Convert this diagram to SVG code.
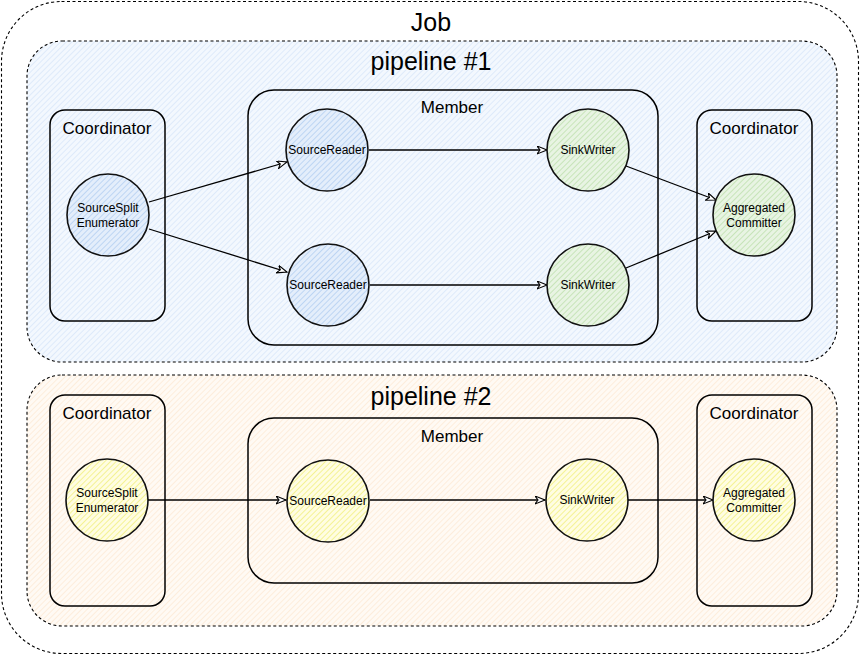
<svg xmlns="http://www.w3.org/2000/svg" width="861" height="656" viewBox="0 0 861 656">
<style>
.dash{fill:none;stroke:#000;stroke-width:1.1;stroke-dasharray:3 2.5}
.box{fill:none;stroke:#000;stroke-width:1.5}
.node{stroke:#111;stroke-width:1.6}
.t{font-family:"Liberation Sans",Arial,sans-serif;fill:#000;text-anchor:middle}
.big{font-size:25px}
.mid{font-size:17px}
.sm{font-size:12px}
.edge{fill:none;stroke:#000;stroke-width:1.3;marker-end:url(#arr)}
</style>
<defs>
<pattern id="hBlueBg" width="4" height="4" patternUnits="userSpaceOnUse" patternTransform="rotate(45)">
<rect width="4" height="4" fill="#f3f8fe"/><line x1="0" y1="0" x2="0" y2="4" stroke="#d3e3f8" stroke-width="1.3"/>
</pattern>
<pattern id="hOrgBg" width="4" height="4" patternUnits="userSpaceOnUse" patternTransform="rotate(45)">
<rect width="4" height="4" fill="#fffaf4"/><line x1="0" y1="0" x2="0" y2="4" stroke="#fde6cf" stroke-width="1.3"/>
</pattern>
<pattern id="hBlue" width="4" height="4" patternUnits="userSpaceOnUse" patternTransform="rotate(45)">
<rect width="4" height="4" fill="#e4eefb"/><line x1="0" y1="0" x2="0" y2="4" stroke="#a8c8f0" stroke-width="1.3"/>
</pattern>
<pattern id="hGreen" width="4" height="4" patternUnits="userSpaceOnUse" patternTransform="rotate(45)">
<rect width="4" height="4" fill="#e8f4e3"/><line x1="0" y1="0" x2="0" y2="4" stroke="#b5dca2" stroke-width="1.3"/>
</pattern>
<pattern id="hYellow" width="4" height="4" patternUnits="userSpaceOnUse" patternTransform="rotate(45)">
<rect width="4" height="4" fill="#fffde2"/><line x1="0" y1="0" x2="0" y2="4" stroke="#eeec6a" stroke-width="1.3"/>
</pattern>
<marker id="arr" markerUnits="userSpaceOnUse" markerWidth="12" markerHeight="10" refX="10" refY="4" orient="auto">
<path d="M0,0 L10,4 L0,8 L3,4 Z" fill="#fff" stroke="#000" stroke-width="1.1" stroke-linejoin="miter"/>
</marker>
</defs>

<g id="job">
<rect class="dash" x="1.5" y="1.5" width="857" height="652" rx="60" fill="#fff"/>
<text class="t big" x="431" y="31">Job</text>
</g>

<g id="pipeline1">
<rect x="27" y="41" width="810" height="321" rx="35" fill="url(#hBlueBg)"/>
<rect class="dash" x="27" y="41" width="810" height="321" rx="35"/>
<text class="t big" x="431" y="70">pipeline #1</text>
</g>

<g id="pipeline2">
<rect x="27" y="375" width="810" height="251" rx="35" fill="url(#hOrgBg)"/>
<rect class="dash" x="27" y="375" width="810" height="251" rx="35"/>
<text class="t big" x="431" y="405">pipeline #2</text>
</g>

<g id="p1-coord-left">
<rect class="box" x="50" y="110" width="115" height="211" rx="15"/>
<text class="t mid" x="107" y="134">Coordinator</text>
</g>
<g id="p1-member">
<rect class="box" x="248" y="90" width="410" height="255" rx="26"/>
<text class="t mid" x="452" y="113">Member</text>
</g>
<g id="p1-coord-right">
<rect class="box" x="697" y="110" width="115" height="211" rx="15"/>
<text class="t mid" x="754" y="134">Coordinator</text>
</g>

<g id="p2-coord-left">
<rect class="box" x="50" y="395" width="115" height="211" rx="15"/>
<text class="t mid" x="107" y="419">Coordinator</text>
</g>
<g id="p2-member">
<rect class="box" x="248" y="418" width="410" height="165" rx="26"/>
<text class="t mid" x="452" y="442">Member</text>
</g>
<g id="p2-coord-right">
<rect class="box" x="697" y="395" width="115" height="211" rx="15"/>
<text class="t mid" x="754" y="419">Coordinator</text>
</g>

<g id="connectors">
<line class="edge" x1="149" y1="202" x2="287" y2="162"/>
<line class="edge" x1="149" y1="229" x2="287" y2="272"/>
<line class="edge" x1="369" y1="150" x2="547" y2="150"/>
<line class="edge" x1="370" y1="285" x2="547" y2="285"/>
<line class="edge" x1="626" y1="166" x2="716" y2="200"/>
<line class="edge" x1="626" y1="268" x2="716" y2="231"/>
<line class="edge" x1="148" y1="500" x2="286" y2="500"/>
<line class="edge" x1="370" y1="500" x2="545" y2="500"/>
<line class="edge" x1="628" y1="500" x2="713" y2="500"/>
</g>

<g id="p1-enumerator">
<circle class="node" cx="108" cy="215" r="41" fill="url(#hBlue)"/>
<text class="t sm" x="108" y="212">SourceSplit</text>
<text class="t sm" x="108" y="227">Enumerator</text>
</g>
<g id="p1-reader1">
<circle class="node" cx="327" cy="150" r="41" fill="url(#hBlue)"/>
<text class="t sm" x="327" y="154">SourceReader</text>
</g>
<g id="p1-reader2">
<circle class="node" cx="328" cy="285" r="41" fill="url(#hBlue)"/>
<text class="t sm" x="328" y="289">SourceReader</text>
</g>
<g id="p1-writer1">
<circle class="node" cx="588" cy="150" r="41" fill="url(#hGreen)"/>
<text class="t sm" x="588" y="154">SinkWriter</text>
</g>
<g id="p1-writer2">
<circle class="node" cx="588" cy="285" r="41" fill="url(#hGreen)"/>
<text class="t sm" x="588" y="289">SinkWriter</text>
</g>
<g id="p1-committer">
<circle class="node" cx="754" cy="215" r="41" fill="url(#hGreen)"/>
<text class="t sm" x="754" y="212">Aggregated</text>
<text class="t sm" x="754" y="227">Committer</text>
</g>

<g id="p2-enumerator">
<circle class="node" cx="107" cy="500" r="41" fill="url(#hYellow)"/>
<text class="t sm" x="107" y="497">SourceSplit</text>
<text class="t sm" x="107" y="512">Enumerator</text>
</g>
<g id="p2-reader">
<circle class="node" cx="328" cy="501" r="41" fill="url(#hYellow)"/>
<text class="t sm" x="328" y="505">SourceReader</text>
</g>
<g id="p2-writer">
<circle class="node" cx="587" cy="500" r="41" fill="url(#hYellow)"/>
<text class="t sm" x="587" y="504">SinkWriter</text>
</g>
<g id="p2-committer">
<circle class="node" cx="754" cy="500" r="41" fill="url(#hYellow)"/>
<text class="t sm" x="754" y="497">Aggregated</text>
<text class="t sm" x="754" y="512">Committer</text>
</g>
</svg>
